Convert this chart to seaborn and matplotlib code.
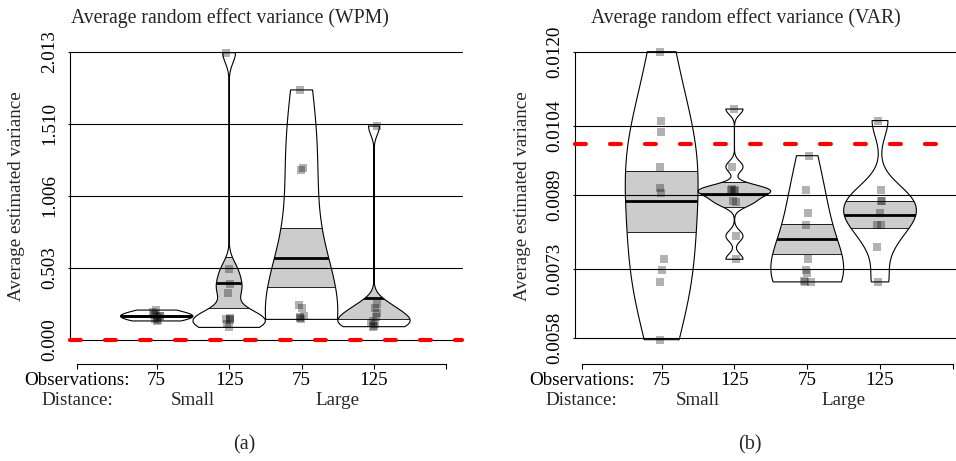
import numpy as np
import pandas as pd
import matplotlib
matplotlib.use("Agg")
import matplotlib.pyplot as plt
import seaborn as sns
from matplotlib.patches import Rectangle
from matplotlib.transforms import blended_transform_factory

# ---------------- data ----------------
positions = [1, 2, 3, 4]
obs_labels = ["75", "125", "75", "125"]
dist_labels = ["Small", "Large"]

# panel (a): WPM
wpm_vals = [
    [0.133, 0.14, 0.15, 0.16, 0.165, 0.17, 0.175, 0.18, 0.195, 0.209],
    [2.006, 0.493, 0.391, 0.326, 0.155, 0.150, 0.145, 0.14, 0.11, 0.088],
    [1.746, 1.20, 1.19, 0.244, 0.22, 0.165, 0.16, 0.155, 0.144],
    [1.494, 0.25, 0.22, 0.19, 0.16, 0.13, 0.12, 0.11, 0.10, 0.093],
]
wpm_mean = [0.170, 0.400, 0.575, 0.296]
wpm_se_lo = [0.163, 0.221, 0.372, 0.148]
wpm_se_hi = [0.177, 0.582, 0.780, 0.440]
wpm_true = 0.0
wpm_ticks = [0.000, 0.503, 1.006, 1.510, 2.013]
wpm_ticklabels = ["0.000", "0.503", "1.006", "1.510", "2.013"]
wpm_bw = [0.03, 0.07, 0.42, 0.06]

# panel (b): VAR
var_vals = [
    [0.0120, 0.01051, 0.01026, 0.00951, 0.00905, 0.00895, 0.00751, 0.00727, 0.00702, 0.00577],
    [0.01076, 0.00951, 0.00902, 0.00900, 0.00900, 0.00898, 0.00876, 0.00874, 0.00801, 0.00751],
    [0.00975, 0.00900, 0.00851, 0.00826, 0.00751, 0.00727, 0.00722, 0.00705, 0.00702, 0.00702],
    [0.01051, 0.00900, 0.00876, 0.00876, 0.00851, 0.00826, 0.00826, 0.00777, 0.00702],
]
var_mean = [0.00876, 0.00893, 0.00795, 0.00846]
var_se_lo = [0.00810, 0.00863, 0.00763, 0.00818]
var_se_hi = [0.00941, 0.00918, 0.00828, 0.00876]
var_true = 0.0100
var_ticks = [0.0058, 0.0073, 0.0089, 0.0104, 0.0120]
var_ticklabels = ["0.0058", "0.0073", "0.0089", "0.0104", "0.0120"]
var_bw = [0.0012, 0.00012, 0.0007, 0.00035]

# ---------------- style ----------------
sns.set_theme(style="white")
plt.rcParams["font.family"] = ["Liberation Serif", "DejaVu Serif"]
FS = 13.7
W, H = 956, 461
np.random.seed(3)

fig = plt.figure(figsize=(W / 100, H / 100), dpi=100)


def px_axes(x0, x1, ytop, ybot):
    return fig.add_axes([x0 / W, (H - ybot) / H, (x1 - x0) / W, (ybot - ytop) / H])


def draw_panel(ax, vals, means, lo, hi, bws, true_val, ticks, ticklabels, ylim, xlim, bottom_px):
    for pos, v, m, l, h, bw in zip(positions, vals, means, lo, hi, bws):
        n0 = len(ax.collections)
        sd = np.std(v, ddof=1)
        sns.violinplot(x=[pos] * len(v), y=v, native_scale=True, orient="x", ax=ax,
                       cut=0, inner=None, width=1.0, density_norm="width",
                       bw_method=bw / sd, color="white", linecolor="black", linewidth=0.8)
        coll = ax.collections[n0]
        coll.set_facecolor("none")
        coll.set_zorder(3)
        coll.set_clip_on(False)
        path = coll.get_paths()[0]
        tr = coll.get_transform()
        rect = Rectangle((pos - 0.6, l), 1.2, h - l, facecolor="#cccccc",
                         edgecolor="none", zorder=1.5)
        ax.add_patch(rect)
        rect.set_clip_path(path, tr)
        for yy, lw in ((l, 0.6), (h, 0.6), (m, 2.0)):
            ln, = ax.plot([pos - 0.6, pos + 0.6], [yy, yy], color="black", lw=lw,
                          zorder=2.5, solid_capstyle="butt")
            ln.set_clip_path(path, tr)

    df = pd.DataFrame({"pos": np.repeat(positions, [len(v) for v in vals]),
                       "val": np.concatenate(vals)})
    n0 = len(ax.collections)
    sns.stripplot(data=df, x="pos", y="val", native_scale=True, orient="x", jitter=0.05,
                  marker="s", size=5.8, color="black", alpha=0.3, linewidth=0, ax=ax)
    for c in ax.collections[n0:]:
        c.set_zorder(3.5)
        c.set_clip_on(False)

    for t in ticks:
        ax.axhline(t, color="black", lw=0.8, zorder=2, clip_on=False)
    ax.axhline(true_val, color="red", lw=3, ls=(0, (2.6, 5.8)), dash_capstyle="round",
               clip_on=False, zorder=5)

    ax.set_xlim(*xlim)
    ax.set_ylim(*ylim)
    ax.set_yticks(ticks)
    ax.set_yticklabels(ticklabels, rotation=90, va="center")
    ax.set_xticks([-0.1] + positions + [5.0])
    ax.set_xticklabels(["Observations:"] + obs_labels + [""])
    ax.set_xlabel("")
    ax.set_ylabel("")
    for s in ("top", "right"):
        ax.spines[s].set_visible(False)
    ax.spines["left"].set_bounds(ylim[0], ylim[1])
    ax.spines["left"].set_linewidth(0.8)
    ax.spines["left"].set_color("black")
    ax.spines["bottom"].set_position(("outward", bottom_px * 0.72))
    ax.spines["bottom"].set_bounds(-0.1, 5.0)
    ax.spines["bottom"].set_linewidth(0.8)
    ax.spines["bottom"].set_color("black")
    ax.tick_params(axis="y", direction="out", length=1.5, width=0.8, pad=7,
                   colors="black", left=True, labelsize=FS)
    ax.tick_params(axis="x", direction="out", length=3.6, width=0.8, pad=2,
                   colors="black", bottom=True, labelsize=FS)
    ax.grid(False)
    ax.set_facecolor("none")

    tr = blended_transform_factory(ax.transData, fig.transFigure)
    ax.text(-0.1, 1 - 400 / H, "Distance:", transform=tr, ha="center", va="center", fontsize=FS)
    ax.text(1.5, 1 - 400 / H, dist_labels[0], transform=tr, ha="center", va="center", fontsize=FS)
    ax.text(3.5, 1 - 400 / H, dist_labels[1], transform=tr, ha="center", va="center", fontsize=FS)


ax1 = px_axes(70, 462, 51.7, 340)
draw_panel(ax1, wpm_vals, wpm_mean, wpm_se_lo, wpm_se_hi, wpm_bw, wpm_true,
           wpm_ticks, wpm_ticklabels, (0.0, 2.013), (-0.197, 5.215), 24)

ax2 = px_axes(575, 956, 51.7, 338.3)
draw_panel(ax2, var_vals, var_mean, var_se_lo, var_se_hi, var_bw, var_true,
           var_ticks, var_ticklabels, (0.0058, 0.0120), (-0.191, 5.044), 25.7)

fig.text(230 / W, 1 - 18 / H, "Average random effect variance (WPM)", ha="center", va="center", fontsize=14.2)
fig.text(746 / W, 1 - 18 / H, "Average random effect variance (VAR)", ha="center", va="center", fontsize=14.2)
fig.text(16.3 / W, 1 - 196 / H, "Average estimated variance", rotation=90, ha="center", va="center", fontsize=FS)
fig.text(522.5 / W, 1 - 196 / H, "Average estimated variance", rotation=90, ha="center", va="center", fontsize=FS)
fig.text(244 / W, 1 - 445 / H, "(a)", ha="center", va="center", fontsize=14.5)
fig.text(750 / W, 1 - 445 / H, "(b)", ha="center", va="center", fontsize=14.5)

fig.savefig("out.png", dpi=100)
